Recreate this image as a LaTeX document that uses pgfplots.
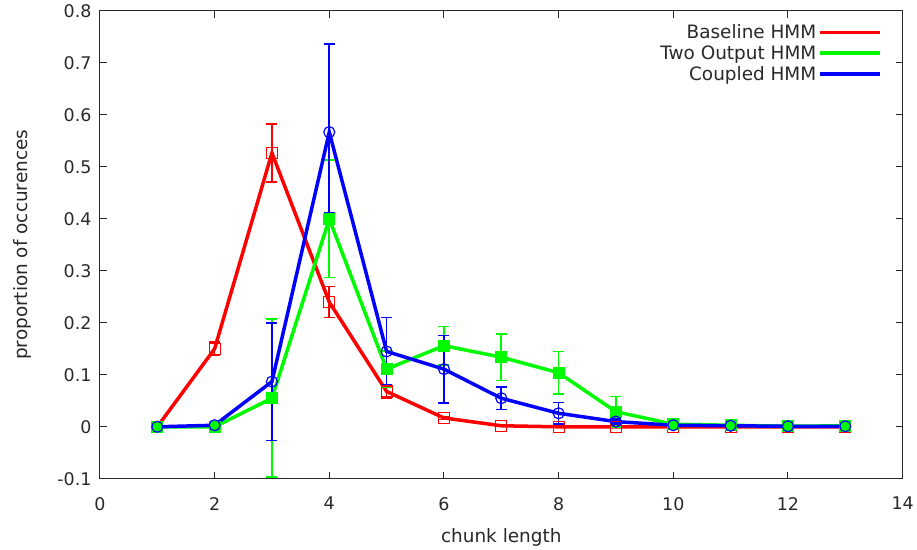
\documentclass[border=0pt]{standalone}
\usepackage{fontspec}
\setmainfont{DejaVu Sans}
\usepackage{pgfplots}
\pgfplotsset{compat=1.18}
\usetikzlibrary{calc}
\definecolor{gred}{RGB}{255,0,0}
\definecolor{ggreen}{RGB}{0,250,0}
\definecolor{gblue}{RGB}{0,0,255}
\definecolor{axgray}{RGB}{40,40,40}
\begin{document}
\begin{tikzpicture}
\begin{axis}[
  scale only axis,
  width=803bp, height=468bp,
  xmin=0, xmax=14, ymin=-0.1, ymax=0.8,
  xtick={0,2,...,14},
  ytick={-0.1,0,0.1,0.2,0.3,0.4,0.5,0.6,0.7,0.8},
  yticklabel style={/pgf/number format/fixed, /pgf/number format/precision=1, xshift=-5bp},
  xticklabel style={yshift=-15bp},
  /pgf/number format/assume math mode=true,
  tick align=inside,
  major tick length=7bp,
  xtick pos=both, ytick pos=both,
  axis line style={line width=1bp, axgray},
  tick style={line width=1bp, axgray},
  font=\fontsize{18.5}{21}\selectfont,
  tick label style={font=\fontsize{17.5}{20}\selectfont, text=axgray},
  xlabel={chunk length},
  ylabel={proportion of occurences},
  label style={text=axgray},
  xlabel style={yshift=-11bp},
  ylabel style={yshift=19bp},
  legend style={draw=none, fill=none, at={(0.978,0.98)}, anchor=north east,
    font=\fontsize{18.5}{21}\selectfont, text=axgray, row sep=1.5bp},
  legend cell align=right,
  legend plot pos=right,
  legend image code/.code={\draw[#1,mark=none,line width=3.5bp] (0bp,0bp) -- (60bp,0bp);},
  every axis plot/.append style={line width=3.5bp},
]
\addplot[gred, mark=square, mark size=5.5bp, mark options={line width=1.2bp},
  error bars/.cd, y dir=both, y explicit,
  error bar style={line width=1.6bp, draw=gred, color=gred},
  error mark options={rotate=90, mark size=5.5bp, line width=1.6bp, draw=gred, color=gred}]
  coordinates {
  (1,0) +- (0,0)
  (2,0.150) +- (0,0.013)
  (3,0.527) +- (0,0.056)
  (4,0.240) +- (0,0.030)
  (5,0.068) +- (0,0.013)
  (6,0.017) +- (0,0.003)
  (7,0.002) +- (0,0.001)
  (8,0.000) +- (0,0)
  (9,0.000) +- (0,0)
  (10,0.000) +- (0,0)
  (11,0.000) +- (0,0)
  (12,0.000) +- (0,0)
  (13,0.000) +- (0,0)
  };
\addlegendentry{Baseline HMM}
\addplot[ggreen, mark=square*, mark size=5.5bp, mark options={line width=1.2bp},
  error bars/.cd, y dir=both, y explicit,
  error bar style={line width=1.6bp, draw=ggreen, color=ggreen},
  error mark options={rotate=90, mark size=5.5bp, line width=1.6bp, draw=ggreen, color=ggreen}]
  coordinates {
  (1,0) +- (0,0)
  (2,0.000) +- (0,0)
  (3,0.055) +- (0,0.152)
  (4,0.400) +- (0,0.113)
  (5,0.111) +- (0,0.035)
  (6,0.156) +- (0,0.037)
  (7,0.134) +- (0,0.045)
  (8,0.104) +- (0,0.041)
  (9,0.029) +- (0,0.029)
  (10,0.005) +- (0,0.003)
  (11,0.003) +- (0,0.002)
  (12,0.001) +- (0,0.001)
  (13,0.002) +- (0,0.001)
  };
\addlegendentry{Two Output HMM}
\addplot[gblue, mark=o, mark size=5.5bp, mark options={line width=1.2bp},
  error bars/.cd, y dir=both, y explicit,
  error bar style={line width=1.6bp, draw=gblue, color=gblue},
  error mark options={rotate=90, mark size=5.5bp, line width=1.6bp, draw=gblue, color=gblue}]
  coordinates {
  (1,0) +- (0,0)
  (2,0.003) +- (0,0.001)
  (3,0.087) +- (0,0.113)
  (4,0.567) += (0,0.170) -= (0,0.156)
  (5,0.145) +- (0,0.065)
  (6,0.111) +- (0,0.065)
  (7,0.055) +- (0,0.022)
  (8,0.026) +- (0,0.021)
  (9,0.010) +- (0,0.005)
  (10,0.003) +- (0,0.002)
  (11,0.002) +- (0,0.001)
  (12,0.001) +- (0,0.001)
  (13,0.001) +- (0,0.001)
  };
\addlegendentry{Coupled HMM}
\coordinate (SW) at (rel axis cs:0,0);
\coordinate (NE) at (rel axis cs:1,1);
\end{axis}
\path ($(SW)+(-100bp,-70bp)$) rectangle ($(NE)+(14bp,11bp)$);
\end{tikzpicture}
\end{document}
